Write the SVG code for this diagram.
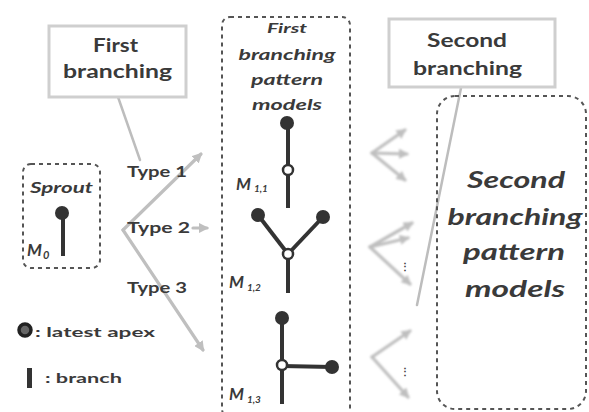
<svg xmlns="http://www.w3.org/2000/svg" width="589" height="412" viewBox="0 0 589 412">
  <style>
    .lbl { font-family: Lato, "Open Sans", "Liberation Sans", sans-serif; font-weight: bold; fill: #3a3a3a; }
    .it { font-style: italic; }
    .box { fill: #ffffff; stroke: #cfcfcf; stroke-width: 3; }
    .dash { fill: none; stroke: #555; stroke-width: 2; stroke-dasharray: 4 4; }
    .link { fill: none; stroke: #bdbdbd; stroke-width: 2.5; stroke-linecap: round; }
    .arrow { fill: none; stroke: #bfbfbf; stroke-width: 3.2; stroke-linecap: round; marker-end: url(#head); }
    .stem { stroke: #333; stroke-width: 4; stroke-linecap: butt; }
    .apex { fill: #333; }
    .joint { fill: #fff; stroke: #333; stroke-width: 2.5; }
  </style>
  <defs>
    <marker id="head" viewBox="0 0 10 10" refX="8" refY="5" markerWidth="3.2" markerHeight="3.2" orient="auto">
      <path d="M0,0 L10,5 L0,10 z" fill="#bfbfbf"/>
    </marker>
    <filter id="soft" x="-10%" y="-10%" width="120%" height="120%">
      <feGaussianBlur stdDeviation="0.9"/>
    </filter>
  </defs>

  <rect width="589" height="412" fill="#ffffff"/>

  <!-- connectors -->
  <g id="connectors">
    <line class="link" x1="118" y1="97" x2="140" y2="160"/>
    <path class="arrow" d="M123,230 L201,154"/>
    <path class="arrow" d="M123,230 L203,350"/>
    <path class="arrow" d="M193,228 L207,228"/>
    <line class="link" x1="461" y1="88" x2="417" y2="305"/>
    <g filter="url(#soft)">
      <!-- fan towards the first group -->
      <path class="arrow" d="M372,153 L405,130"/>
      <path class="arrow" d="M372,153 L407,154"/>
      <path class="arrow" d="M372,153 L405,180"/>
      <!-- fan towards the second group -->
      <path class="arrow" d="M370,247 L412,223"/>
      <path class="arrow" d="M370,247 L408,238"/>
      <path class="arrow" d="M370,247 L410,284"/>
      <!-- fan towards the third group -->
      <path class="arrow" d="M372,357 L410,331"/>
      <path class="arrow" d="M372,357 L408,397"/>
    </g>
    <text class="lbl" x="405" y="270" font-size="10" text-anchor="middle" fill="#555">⋮</text>
    <text class="lbl" x="405" y="375" font-size="10" text-anchor="middle" fill="#555">⋮</text>
  </g>

  <!-- First branching -->
  <g id="first-branching">
    <rect class="box" x="49" y="26" width="137" height="71"/>
    <text class="lbl" x="93" y="52" font-size="18" textLength="45" lengthAdjust="spacingAndGlyphs">First</text>
    <text class="lbl" x="63" y="78" font-size="18" textLength="109" lengthAdjust="spacingAndGlyphs">branching</text>
  </g>

  <!-- Second branching -->
  <g id="second-branching">
    <rect class="box" x="389" y="19" width="166" height="68"/>
    <text class="lbl" x="427" y="47" font-size="18" textLength="80" lengthAdjust="spacingAndGlyphs">Second</text>
    <text class="lbl" x="413" y="75" font-size="18" textLength="109" lengthAdjust="spacingAndGlyphs">branching</text>
  </g>

  <!-- Type labels -->
  <g id="type-labels">
    <text class="lbl" x="127" y="177" font-size="15" textLength="60" lengthAdjust="spacingAndGlyphs">Type 1</text>
    <text class="lbl" x="127" y="233" font-size="15" textLength="63" lengthAdjust="spacingAndGlyphs">Type 2</text>
    <text class="lbl" x="127" y="293" font-size="15" textLength="60" lengthAdjust="spacingAndGlyphs">Type 3</text>
  </g>

  <!-- Sprout -->
  <g id="sprout">
    <rect class="dash" x="23" y="164" width="77" height="104" rx="8"/>
    <text class="lbl it" x="30" y="193" font-size="15" textLength="63" lengthAdjust="spacingAndGlyphs">Sprout</text>
    <line class="stem" x1="63" y1="213" x2="63" y2="256"/>
    <circle class="apex" cx="62" cy="213" r="7"/>
    <text class="lbl it" x="27" y="256" font-size="17">M<tspan font-size="11" dx="1" dy="3">0</tspan></text>
  </g>

  <!-- Legend -->
  <g id="legend">
    <circle cx="25" cy="330" r="6" fill="#666" stroke="#222" stroke-width="3.5"/>
    <text class="lbl" x="35" y="337" font-size="14" textLength="120" lengthAdjust="spacingAndGlyphs">: latest apex</text>
    <rect x="27" y="368" width="5" height="20" fill="#333"/>
    <text class="lbl" x="45" y="383" font-size="14" textLength="77" lengthAdjust="spacingAndGlyphs">: branch</text>
  </g>

  <!-- First branching pattern models -->
  <g id="first-models">
    <rect class="dash" x="222" y="17" width="128" height="400" rx="8"/>
    <text class="lbl it" x="287" y="33" font-size="14" text-anchor="middle" textLength="40" lengthAdjust="spacingAndGlyphs">First</text>
    <text class="lbl it" x="287" y="60" font-size="15" text-anchor="middle" textLength="97" lengthAdjust="spacingAndGlyphs">branching</text>
    <text class="lbl it" x="287" y="85" font-size="15" text-anchor="middle" textLength="72" lengthAdjust="spacingAndGlyphs">pattern</text>
    <text class="lbl it" x="287" y="110" font-size="15" text-anchor="middle" textLength="70" lengthAdjust="spacingAndGlyphs">models</text>

    <!-- M1,1 -->
    <g id="m11">
      <line class="stem" x1="288" y1="123" x2="288" y2="208"/>
      <circle class="apex" cx="287" cy="123" r="7"/>
      <circle class="joint" cx="288" cy="170" r="5"/>
      <text class="lbl it" x="236" y="190" font-size="17">M<tspan font-size="10" dx="3" dy="2">1,1</tspan></text>
    </g>

    <!-- M1,2 -->
    <g id="m12">
      <line class="stem" x1="258" y1="215" x2="288" y2="254"/>
      <line class="stem" x1="323" y1="217" x2="288" y2="254"/>
      <line class="stem" x1="288" y1="254" x2="288" y2="293"/>
      <circle class="apex" cx="258" cy="215" r="7"/>
      <circle class="apex" cx="323" cy="217" r="7"/>
      <circle class="joint" cx="288" cy="254" r="5"/>
      <text class="lbl it" x="229" y="288" font-size="17">M<tspan font-size="10" dx="3" dy="3">1,2</tspan></text>
    </g>

    <!-- M1,3 -->
    <g id="m13">
      <line class="stem" x1="282" y1="318" x2="282" y2="404"/>
      <line class="stem" x1="282" y1="366" x2="332" y2="367"/>
      <circle class="apex" cx="282" cy="318" r="7"/>
      <circle class="apex" cx="332" cy="367" r="7"/>
      <circle class="joint" cx="282" cy="365" r="5"/>
      <text class="lbl it" x="229" y="400" font-size="17">M<tspan font-size="10" dx="3" dy="3">1,3</tspan></text>
    </g>
  </g>

  <!-- Second branching pattern models -->
  <g id="second-models">
    <rect class="dash" x="437" y="96" width="149" height="313" rx="18"/>
    <text class="lbl it" x="516" y="188" font-size="23" text-anchor="middle" textLength="98" lengthAdjust="spacingAndGlyphs">Second</text>
    <text class="lbl it" x="515" y="225" font-size="23" text-anchor="middle" textLength="135" lengthAdjust="spacingAndGlyphs">branching</text>
    <text class="lbl it" x="514" y="260" font-size="23" text-anchor="middle" textLength="102" lengthAdjust="spacingAndGlyphs">pattern</text>
    <text class="lbl it" x="515" y="297" font-size="23" text-anchor="middle" textLength="100" lengthAdjust="spacingAndGlyphs">models</text>
  </g>
</svg>
